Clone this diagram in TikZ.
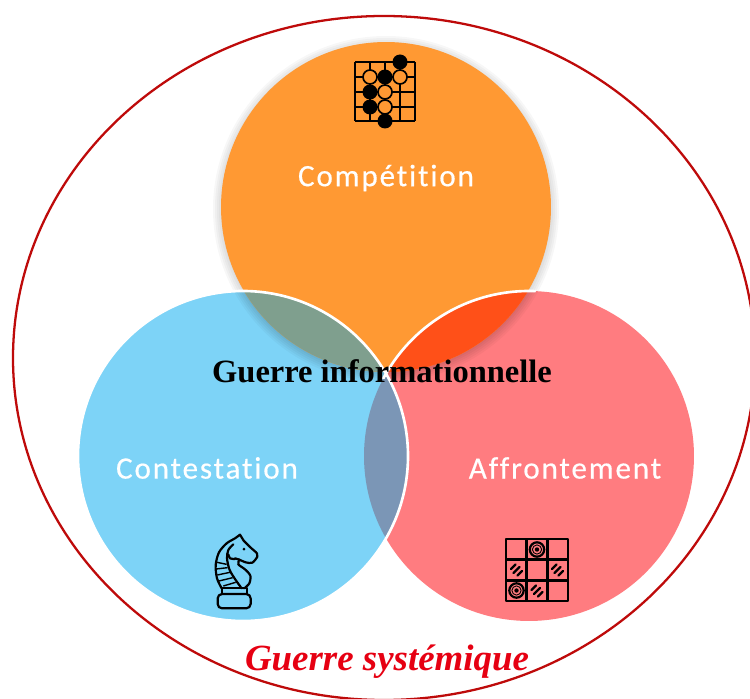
\documentclass[tikz,border=0pt]{standalone}
\usepackage{fontspec}
\setmainfont{Liberation Serif}
\newfontfamily\labelfont[LetterSpace=6.0,Ligatures=NoCommon,FakeBold=0.4]{Carlito}
\usetikzlibrary{positioning}

\definecolor{frameRed}{HTML}{BE0A0A}
\definecolor{titleRed}{HTML}{E60012}
\definecolor{compOrange}{HTML}{FF9933}
\definecolor{contBlue}{HTML}{7DD3F7}
\definecolor{affrRed}{HTML}{FF7C80}
\definecolor{lensGreen}{HTML}{7F9F8E}
\definecolor{lensFire}{HTML}{FF5018}
\definecolor{lensSteel}{HTML}{7B96B6}

\begin{document}
\begin{tikzpicture}[x=0.02cm, y=-0.02cm]
	\tikzstyle{disc} = [circle, inner sep=0pt, minimum size=6.6cm]
	\tikzstyle{setname} = [text=white, font=\labelfont\fontsize{17.7}{20}\selectfont, inner sep=0pt]
	\tikzstyle{stone} = [draw=black, line width=0.95pt]
	\tikzstyle{icon} = [line width=1.25pt, line join=round, line cap=round]

	\useasboundingbox (0,0) rectangle (750,699);

	\begin{scope}
		\clip (0,0) rectangle (750,699);
		\draw[frameRed, line width=1.3pt] (384,358) ellipse [x radius=371, y radius=342];
	\end{scope}

	% the three circles
	\node[disc, fill=affrRed] (affr) at (529,456) {};
	\node[disc, fill=contBlue] (cont) at (243,456) {};
	\begin{scope}
		\clip (243,456) circle (165);
		\fill[lensSteel] (529,456) circle (165);
	\end{scope}

	% soft edge under the orange one
	\foreach \r in {173,171,...,165}
		\fill[black, opacity=0.03] (386,209) circle (\r);
	\node[disc, fill=compOrange] (comp) at (386,207) {};

	\begin{scope}
		\clip (386,207) circle (165);
		\fill[lensFire] (529,456) circle (165);
		\fill[lensGreen] (243,456) circle (165);
	\end{scope}
	\begin{scope}
		\clip (386,207) circle (172);
		\draw[white, line width=1.5pt] (529,456) circle (165);
	\end{scope}
	\draw[white, line width=1.5pt] (243,456) circle (165);

	% labels
	\node[setname] (complabel) at (386,178) {Compétition};
	\node[setname] (contlabel) at (207,468) {Contestation};
	\node[setname] (affrlabel) at (565,468) {Affrontement};
	\node[inner sep=0pt, font=\fontsize{18.5}{20}\selectfont\bfseries] (info) at (382,371) {Guerre informationnelle};
	\node[inner sep=0pt, text=titleRed, font=\fontsize{21}{24}\selectfont\bfseries\itshape] (syst) at (387,662) {Guerre systémique};

	% go board
	\begin{scope}
		\foreach \x in {355,370,385,400,415}
			\draw[icon, line cap=butt] (\x,62) -- (\x,121);
		\foreach \y in {62,77,92,107,121}
			\draw[icon, line cap=butt] (355,\y) -- (415,\y);
		\foreach \x/\y in {370/77,400/77,385/92,385/107}
			\filldraw[stone, fill=compOrange] (\x,\y) circle (7);
		\foreach \x/\y in {400/62,385/77,370/92,370/107,385/121}
			\fill[black] (\x,\y) circle (7.5);
	\end{scope}

	% knight
	\begin{scope}[shift={(195,525)}, scale=0.3333]
		\draw[icon, rounded corners=2.5pt] (68,207) rectangle (167,250);
		\draw[icon] (80,207) -- (80,190) -- (157,190) -- (157,207);
		\draw[icon] plot[smooth] coordinates {(80,190) (66,160) (62,120) (72,82) (95,55) (120,40) (135,29)}
			-- (146,47);
		\draw[icon] plot[smooth] coordinates {(146,47) (165,66) (186,85) (187,95) (172,113) (152,112) (133,104) (120,100)};
		\draw[icon] plot[smooth] coordinates {(133,104) (130,118) (150,133) (166,152) (163,175) (148,190)};
		\draw[icon] plot[smooth] coordinates {(115,58) (100,75) (96,100) (104,135) (122,165) (140,190)};
		\draw[icon] plot[smooth] coordinates {(100,88) (105,100) (120,102)};
		\foreach \a/\b/\c/\d in {66/112/95/118, 63/132/98/128, 67/150/105/142, 72/168/113/158, 85/183/122/172}
			\draw[line width=0.8pt] (\a,\b) -- (\c,\d);
		\fill[black] (147,72) circle (4.5);
	\end{scope}

	% checkers board
	\begin{scope}
		\draw[icon, line cap=butt, line width=1.4pt] (506,539) rectangle (568,601);
		\foreach \t in {20.7,41.3} {
			\draw[icon, line cap=butt, line width=1.4pt] (506+\t,539) -- (506+\t,601);
			\draw[icon, line cap=butt, line width=1.4pt] (506,539+\t) -- (568,539+\t);
		}
		\foreach \x/\y in {537/549.5,516.5/590.5} {
			\draw[icon] (\x,\y) circle (7.2);
			\fill[black] (\x,\y) circle (2.2);
			\draw[line width=0.5pt] (\x,\y) circle (4.6);
		}
		\foreach \x/\y in {516.5/570,557.5/570,537/591} {
			\draw[icon] (\x-5.5,\y-1) -- (\x-1,\y-5.5);
			\draw[icon] (\x-3,\y+3) -- (\x+3,\y-3);
			\draw[icon] (\x+1,\y+5.5) -- (\x+5.5,\y+1);
		}
	\end{scope}
\end{tikzpicture}
\end{document}
